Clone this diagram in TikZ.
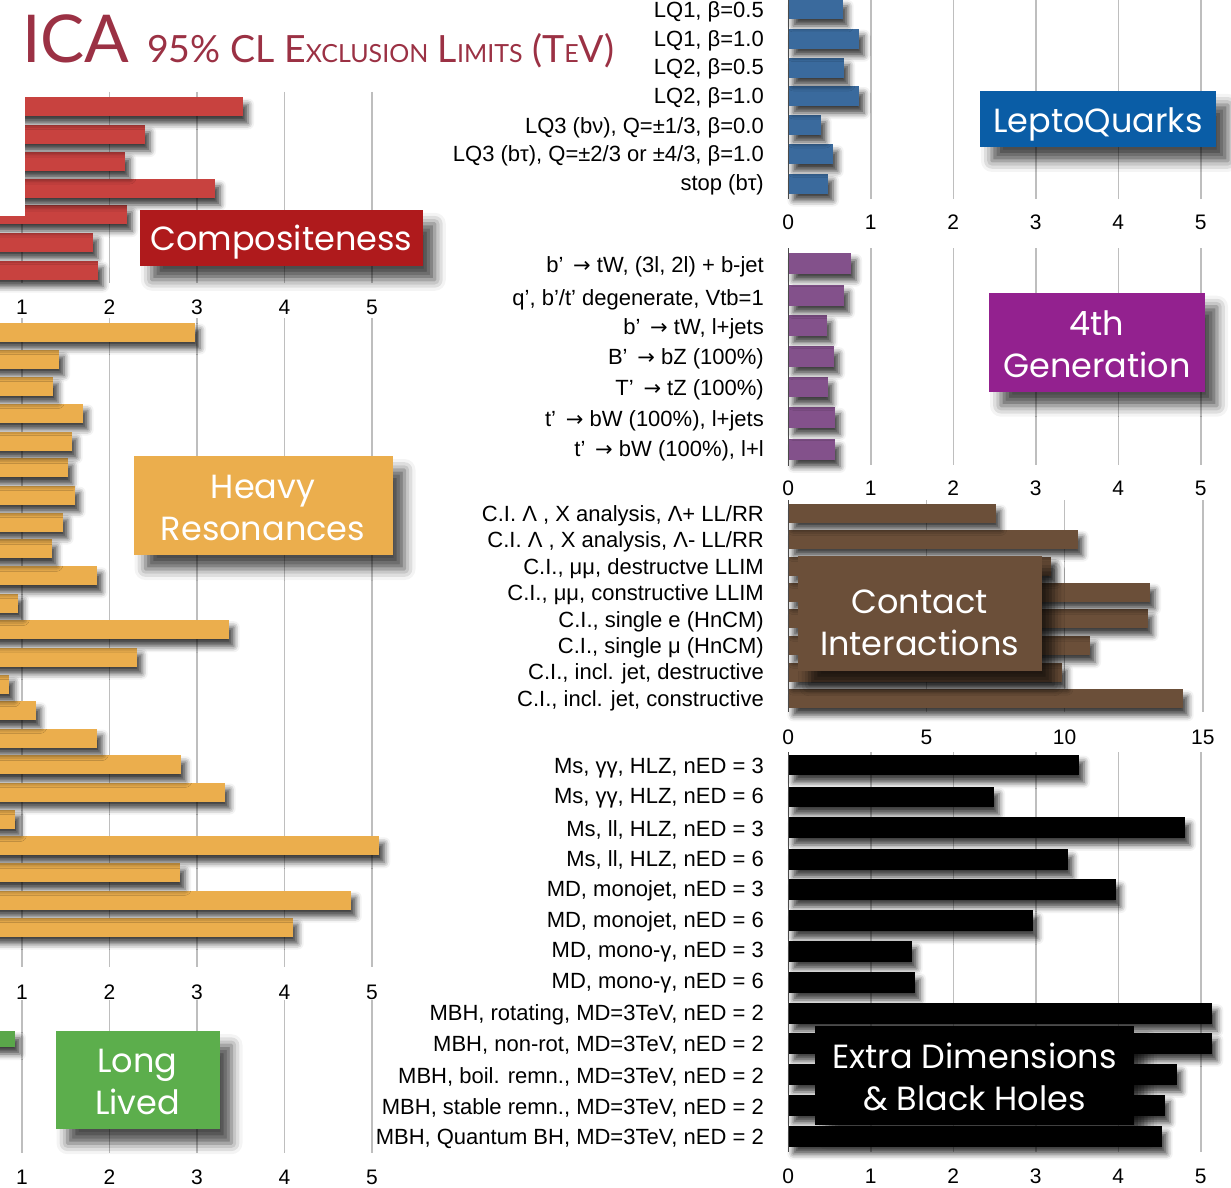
\documentclass[tikz,border=0pt]{standalone}
\usepackage{fontspec}
\setmainfont{Liberation Sans}
\newfontfamily\boxfont{Poppins}
\newfontfamily\titlefont{Lato}
\newfontfamily\arrowfont{DejaVu Sans}
\usetikzlibrary{shadows.blur}

\definecolor{titlered}{HTML}{9B3144}
\definecolor{compbar}{HTML}{C8423F}
\definecolor{compbox}{HTML}{AF1A1C}
\definecolor{lqbar}{HTML}{3A6A9D}
\definecolor{lqbox}{HTML}{0A5DA6}
\definecolor{hrbar}{HTML}{EBAE4D}
\definecolor{genbar}{HTML}{83518B}
\definecolor{genbox}{HTML}{93218F}
\definecolor{cibar}{HTML}{6B4F39}
\definecolor{llbar}{HTML}{5AA74A}
\definecolor{llbox}{HTML}{5CAE4C}
\definecolor{gridgray}{HTML}{BEBEBE}
\definecolor{axisgray}{HTML}{4A4A4A}

\newcommand\smallcap[1]{{\fontsize{25}{25}\selectfont #1}}
\newcommand\arr{\,{\arrowfont\fontsize{21}{21}\selectfont →}}

\tikzset{
  gridline/.style={gridgray,line width=1.5pt},
  axisline/.style={axisgray,line width=1.5pt},
  barshadow/.style={blur shadow={shadow xshift=5pt,shadow yshift=-7pt,
    shadow blur radius=6pt,shadow opacity=75}},
  lab/.style={anchor=east,inner sep=0pt,font=\fontsize{22}{22}\selectfont},
  ticklab/.style={inner sep=0pt,font=\fontsize{21}{21}\selectfont},
  catbox/.style={inner sep=0pt,
    blur shadow={shadow xshift=12pt,shadow yshift=-14pt,
      shadow blur radius=11pt,shadow opacity=70}},
  boxtext/.style={inner sep=0pt,text=white,align=center,
    font=\boxfont\fontsize{33.5}{42}\selectfont}
}

\begin{document}
\begin{tikzpicture}[x=1pt,y=-1pt]
\useasboundingbox (0,0) rectangle (1231,1188);
\clip (0,0) rectangle (1231,1188);

% title
\node[anchor=base west,inner sep=0pt,text=titlered,font=\titlefont\fontsize{66}{66}\selectfont] (ica) at (22,63) {ICA};
\node[anchor=base west,inner sep=0pt,text=titlered,font=\titlefont\fontsize{37.5}{37.5}\selectfont] (limits) at (147,63)
  {95\% CL E\smallcap{XCLUSION} L\smallcap{IMITS} (T\smallcap{E}V)};

% left column grid
\foreach \v in {1,...,5} {
  \draw[gridline] ({-65.5+87.5*\v},92) -- ({-65.5+87.5*\v},283);
  \draw[gridline] ({-65.5+87.5*\v},318) -- ({-65.5+87.5*\v},967);
  \draw[gridline] ({-65.5+87.5*\v},1000) -- ({-65.5+87.5*\v},1153);
  \node[ticklab] (ct\v) at ({-65.5+87.5*\v},307) {\v};
  \node[ticklab] (ht\v) at ({-65.5+87.5*\v},992) {\v};
  \node[ticklab] (lt\v) at ({-65.5+87.5*\v},1177) {\v};
}

% compositeness (bottom bar first, so each shadow falls on the bar below)
\foreach \c/\e in {270/98,242/93,214.5/127,188.5/215,161.5/125,134.5/145,107/243}
  \fill[compbar,barshadow] (-70,\c-9.5) rectangle (\e,\c+9.5);
\fill[white] (0,88) rectangle (25,216);
\node[catbox,fill=compbox,minimum width=283pt,minimum height=56pt] (comp) at (281.3,237.8) {};
\node[boxtext] (compt) at (281.3,242) {Compositeness};

% heavy resonances
\foreach \c/\e in {927/292.7,900/350.7,872.8/180,845.8/379.3,819/15.3,792/224.7,764.8/180.7,
  738/97.3,710.8/35.7,684.2/9.3,657/136.7,629.7/228.7,603/18.3,575.8/96.7,548.8/51.7,
  522/62.7,495.2/74.7,467.8/67.7,441.2/71.7,413/82.7,386/53.3,359/59,332/195}
  \fill[hrbar,barshadow] (-70,\c-9.5) rectangle (\e,\c+9.5);
\node[catbox,fill=hrbar,minimum width=259pt,minimum height=99pt] (heavy) at (263,505.5) {};
\node[boxtext] (heavyt) at (263,507.5) {Heavy\\Resonances};

% long lived
\fill[llbar,barshadow] (-70,1031) rectangle (15,1047);
\node[catbox,fill=llbox,minimum width=164pt,minimum height=98pt] (long) at (137.5,1080.2) {};
\node[boxtext] (longt) at (137.5,1082.2) {Long\\Lived};

% leptoquarks
\foreach \v in {1,...,5} \draw[gridline] ({788.3+82.5*\v},0) -- ({788.3+82.5*\v},199);
\foreach \v in {0,...,5} \node[ticklab] (qt\v) at ({788.3+82.5*\v},222) {\v};
\foreach \c/\e in {183.5/828,154.3/832.7,125/820.7,96/859,68/844,38.7/859,9/842.7}
  \fill[lqbar,barshadow] (788.3,\c-10) rectangle (\e,\c+10);
\draw[axisline] (788.3,0) -- (788.3,199);
\foreach \y/\t [count=\i] in {11.5/{LQ1, β=0.5},40.5/{LQ1, β=1.0},69.2/{LQ2, β=0.5},98.2/{LQ2, β=1.0},
  127.5/{LQ3 (bν), Q=±1/3, β=0.0},155.8/{LQ3 (bτ), Q=±2/3 or ±4/3, β=1.0},184.8/{stop (bτ)}}
  \node[lab] (lq\i) at (764,\y) {\t};
\node[catbox,fill=lqbox,minimum width=236pt,minimum height=56pt] (lepto) at (1097.9,118.9) {};
\node[boxtext] (leptot) at (1097.9,124) {LeptoQuarks};

% 4th generation
\foreach \v in {1,...,5} \draw[gridline] ({788.3+82.5*\v},248) -- ({788.3+82.5*\v},465);
\foreach \v in {0,...,5} \node[ticklab] (gt\v) at ({788.3+82.5*\v},488) {\v};
\foreach \c/\e in {449.5/835,417.2/835,387/827.7,356.5/834,325.3/826.7,295.3/844,263.3/851}
  \fill[genbar,barshadow] (788.3,\c-10.3) rectangle (\e,\c+10.3);
\draw[axisline] (788.3,248) -- (788.3,466);
\foreach \y/\t [count=\i] in {266.5/{b’ \arr\ tW, (3l, 2l) + b-jet},299.5/{q’, b’/t’ degenerate, Vtb=1},
  328.5/{b’ \arr\ tW, l+jets},358.5/{B’ \arr\ bZ (100\%)},389.5/{T’ \arr\ tZ (100\%)},
  420.5/{t’ \arr\ bW (100\%), l+jets},451/{t’ \arr\ bW (100\%), l+l}}
  \node[lab] (gen\i) at (764,\y) {\t};
\node[catbox,fill=genbox,minimum width=216pt,minimum height=99pt] (fourth) at (1097,342.2) {};
\node[boxtext] (fourtht) at (1097,344.2) {4th\\Generation};

% contact interactions
\foreach \v in {5,10,15} \draw[gridline] ({788.3+27.63*\v},500) -- ({788.3+27.63*\v},712);
\foreach \v in {0,5,10,15} \node[ticklab] (it\v) at ({788.3+27.63*\v},737) {\v};
\foreach \c/\e in {698.8/1182.7,672.7/1062,645.8/1090,618.8/1147.7,592.2/1150,566/1050.7,539.2/1077.7,513/995.7}
  \fill[cibar,barshadow] (788.3,\c-9.5) rectangle (\e,\c+9.5);
\draw[axisline] (788.3,500) -- (788.3,712);
\foreach \y/\t [count=\i] in {515.5/{C.I. Λ , X analysis, Λ+ LL/RR},541.5/{C.I. Λ , X analysis, Λ- LL/RR},
  568.2/{C.I., μμ, destructve LLIM},594.8/{C.I., μμ, constructive LLIM},621.5/{C.I., single e (HnCM)},
  648.2/{C.I., single μ (HnCM)},674.2/{C.I., incl. jet, destructive},700.8/{C.I., incl. jet, constructive}}
  \node[lab] (ci\i) at (764,\y) {\t};
\node[catbox,fill=cibar,minimum width=244pt,minimum height=115pt] (contact) at (919.5,613.3) {};
\node[boxtext] (contactt) at (919.5,623) {Contact\\Interactions};

% extra dimensions
\foreach \v in {1,...,5} \draw[gridline] ({788.3+82.5*\v},752) -- ({788.3+82.5*\v},1152);
\foreach \v in {0,...,5} \node[ticklab] (et\v) at ({788.3+82.5*\v},1176) {\v};
\foreach \c/\e in {765/1079,797/994,827.5/1185,859.6/1067.7,889.6/1115.7,920.8/1032.7,951.3/911.7,
  982.5/915,1013.6/1212.3,1043.3/1212.3,1074.5/1176.7,1105.3/1165,1136.3/1161.7}
  \fill[black,barshadow] (788.3,\c-10.4) rectangle (\e,\c+10.4);
\draw[axisline] (788.3,752) -- (788.3,1152);
\foreach \y/\t [count=\i] in {768.2/{Ms, γγ, HLZ, nED = 3},798.5/{Ms, γγ, HLZ, nED = 6},
  829.5/{Ms, ll, HLZ, nED = 3},859.5/{Ms, ll, HLZ, nED = 6},890.5/{MD, monojet, nED = 3},
  921.5/{MD, monojet, nED = 6},952.5/{MD, mono-γ, nED = 3},983.5/{MD, mono-γ, nED = 6},
  1014.5/{MBH, rotating, MD=3TeV, nED = 2},1045.5/{MBH, non-rot, MD=3TeV, nED = 2},
  1076.5/{MBH, boil. remn., MD=3TeV, nED = 2},1107.5/{MBH, stable remn., MD=3TeV, nED = 2},
  1138.5/{MBH, Quantum BH, MD=3TeV, nED = 2}}
  \node[lab] (ed\i) at (764,\y) {\t};
\node[catbox,fill=black,minimum width=319pt,minimum height=99pt] (extra) at (974.5,1075.3) {};
\node[boxtext] (extrat) at (974.5,1076.5) {Extra Dimensions\\\& Black Holes};
\end{tikzpicture}
\end{document}
